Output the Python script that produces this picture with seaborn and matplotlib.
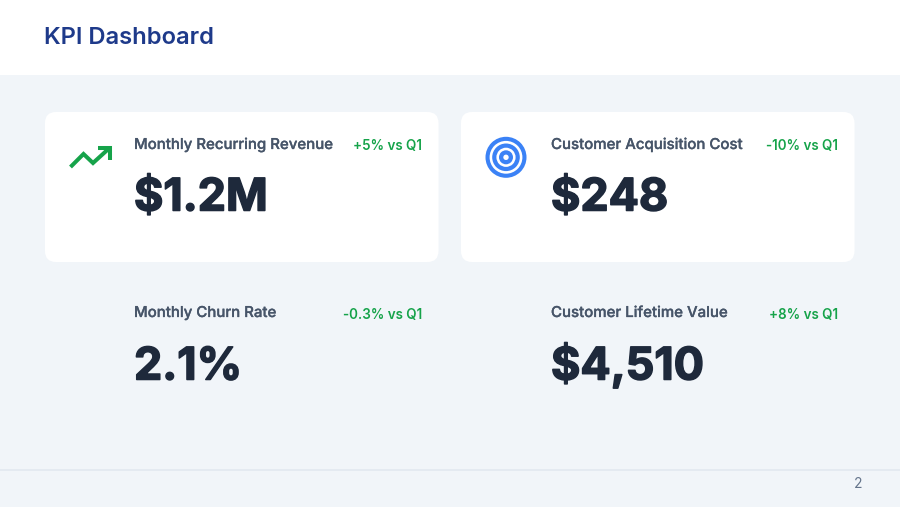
import matplotlib
matplotlib.use("Agg")
import matplotlib.pyplot as plt
import matplotlib.patheffects as pe
from matplotlib.patches import FancyBboxPatch, Circle, Rectangle
import seaborn as sns

labels = ["Monthly Recurring Revenue", "Customer Acquisition Cost", "Monthly Churn Rate", "Customer Lifetime Value"]
values = ["$1.2M", "$248", "2.1%", "$4,510"]
changes = ["+5% vs Q1", "-10% vs Q1", "-0.3% vs Q1", "+8% vs Q1"]
title = "KPI Dashboard"
page = "2"

BG, WHITE = "#f1f5f9", "#ffffff"
NAVY, SLATE, INK, GREEN, BLUE, MUTED, RULE = "#1e3a8a", "#475569", "#1e293b", "#16a34a", "#3b82f6", "#64748b", "#e2e8f0"

sns.set_theme(style="white")
plt.rcParams["font.family"] = ["Inter", "DejaVu Sans"]

fig = plt.figure(figsize=(9, 5.07), dpi=100, facecolor=BG)
ax = fig.add_axes([0, 0, 1, 1])
ax.set_xlim(0, 900)
ax.set_ylim(507, 0)
ax.axis("off")

ax.add_patch(Rectangle((0, 0), 900, 75, fc=WHITE, ec="none"))
ax.plot([0, 900], [469.5, 469.5], color=RULE, lw=1.2, solid_capstyle="butt")
ax.text(44.5, 44.5, title, color=NAVY, fontsize=17.1, fontweight="semibold", va="baseline")
ax.text(858, 488.5, page, color=MUTED, fontsize=10, ha="center", va="baseline")

for x0 in (45, 461):
    ax.add_patch(FancyBboxPatch((x0 + 11, 123), 393.5 - 22, 150 - 22,
                                boxstyle="round,pad=11,rounding_size=11", fc=WHITE, ec="none"))

tx = [134, 551, 134, 551]
rx = [422, 838, 422, 838]
ly = [149, 149, 317, 317]
vy = [210.5, 210.5, 379.5, 379.5]
cy = [150, 150, 319, 319]
for i in range(4):
    t = ax.text(tx[i], ly[i], labels[i], color=SLATE, fontsize=10.8, fontweight="medium", va="baseline")
    t.set_path_effects([pe.withStroke(linewidth=0.2, foreground=SLATE)])
    t = ax.text(tx[i], vy[i], values[i], color=INK, fontsize=32.3, fontweight="bold", va="baseline")
    t.set_path_effects([pe.withStroke(linewidth=1.1, foreground=INK)])
    ax.text(rx[i], cy[i], changes[i], color=GREEN, fontsize=9.7, fontweight="semibold", ha="right", va="baseline")

# trend icon
for xs, ys in (([70.5, 83.5, 93, 109.5], [167, 154, 163, 148]), ([97.5, 109.5, 109.5], [148, 148, 160])):
    sns.lineplot(x=xs, y=ys, ax=ax, color=GREEN, lw=2.9, sort=False, estimator=None,
                 solid_capstyle="butt", solid_joinstyle="miter", legend=False)
ax.set_xlim(0, 900)
ax.set_ylim(507, 0)
ax.axis("off")

# target icon
for r, c in ((20.5, BLUE), (16.4, WHITE), (13.8, BLUE), (9.6, WHITE), (7, BLUE), (2.7, WHITE)):
    ax.add_patch(Circle((506, 157.3), r, fc=c, ec="none"))

fig.savefig("out.png", dpi=100, facecolor=BG)
